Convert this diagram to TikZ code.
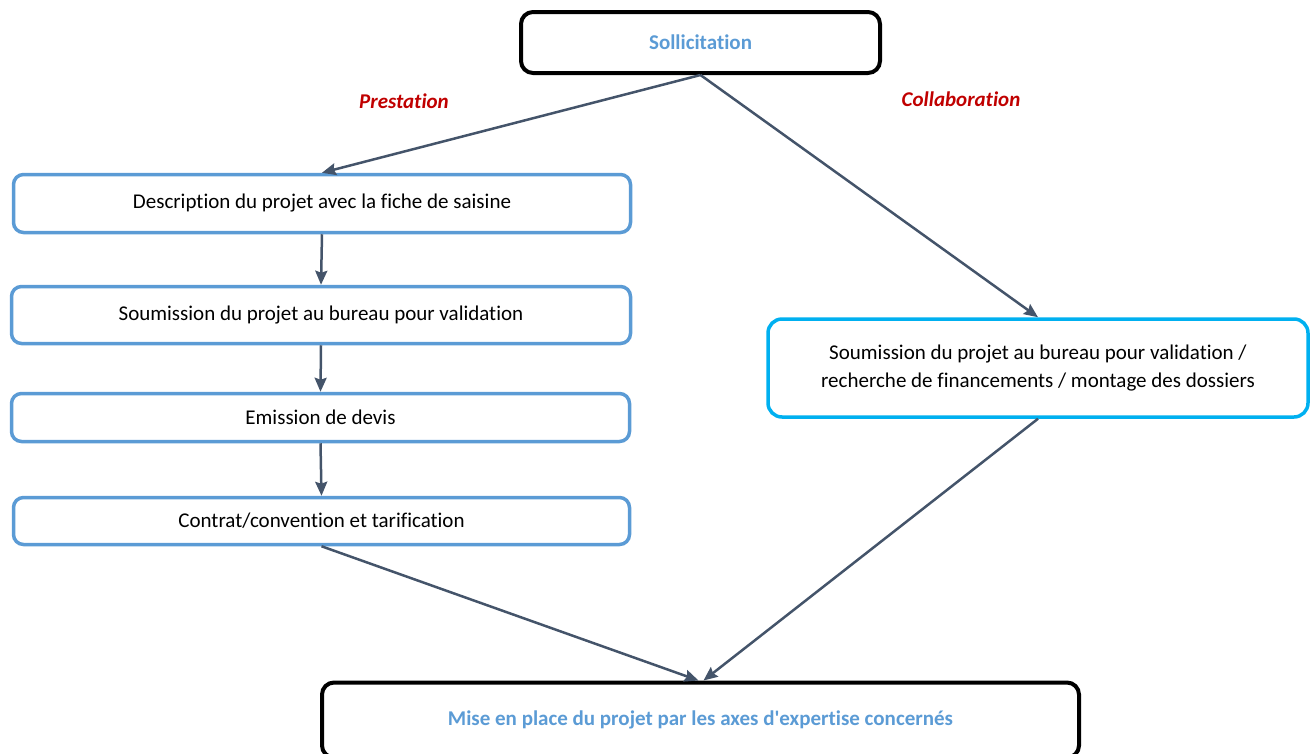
\documentclass[tikz,border=0pt]{standalone}
\usepackage{fontspec}
\defaultfontfeatures[\rmfamily]{}
\setmainfont{Carlito}[Ligatures=NoCommon]
\usetikzlibrary{arrows.meta}
\definecolor{boxblue}{HTML}{5B9BD5}
\definecolor{boxcyan}{HTML}{00B0F0}
\definecolor{arrowgray}{HTML}{44546A}
\definecolor{labelred}{HTML}{C00000}
\begin{document}
\begin{tikzpicture}[x=1pt,y=-1pt,
  every node/.style={font=\fontsize{21}{28}\selectfont, inner sep=0pt, align=center},
  blackbox/.style={draw=black, line width=4pt, rounded corners=12pt, text=boxblue, font=\fontsize{21}{28}\selectfont\bfseries},
  bluebox/.style={draw=boxblue, line width=3.5pt, rounded corners=10pt, text=black},
  cyanbox/.style={draw=boxcyan, line width=3.5pt, rounded corners=14pt, text=black},
  flow/.style={draw=arrowgray, line width=2.5pt, -{Stealth[length=14pt,width=12pt,inset=2pt]}},
  branch/.style={text=labelred, font=\fontsize{21}{28}\selectfont\bfseries\itshape}]
\useasboundingbox (0,0) rectangle (1312,753);
\clip (0,0) rectangle (1312,753);
\node[blackbox, minimum width=359pt, minimum height=61pt] (sol) at (700.5,42.5) {Sollicitation};
\node[bluebox, minimum width=617pt, minimum height=58pt] (b1) at (322,203.5) {\raisebox{-2pt}{Description du projet avec la fiche de saisine}};
\node[bluebox, minimum width=619pt, minimum height=57pt] (b2) at (321,315) {\raisebox{-1pt}{Soumission du projet au bureau pour validation}};
\node[bluebox, minimum width=618pt, minimum height=48pt] (b3) at (320.5,417.5) {\raisebox{-2pt}{Emission de devis}};
\node[bluebox, minimum width=616pt, minimum height=47pt] (b4) at (321.5,521) {\raisebox{-2pt}{Contrat/convention et tarification}};
\node[cyanbox, minimum width=540pt, minimum height=98pt] (rb) at (1038,368) {Soumission du projet au bureau pour validation /\\ recherche de financements / montage des dossiers};
\node[blackbox, minimum width=757pt, minimum height=75pt] (bot) at (700.5,720) {Mise en place du projet par les axes d'expertise concernés};
\node[branch] (pl) at (404,101) {Prestation};
\node[branch] (cl) at (961,99) {Collaboration};
\draw[flow] (sol.south) -- (b1.north);
\draw[flow] (sol.south) -- (rb.north);
\draw[flow] (b1.south) -- (b2.north);
\draw[flow] (b2.south) -- (b3.north);
\draw[flow] (b3.south) -- (b4.north);
\draw[flow] (b4.south) -- ([xshift=-2pt]bot.north);
\draw[flow] (rb.south) -- ([xshift=3pt]bot.north);
\end{tikzpicture}
\end{document}
